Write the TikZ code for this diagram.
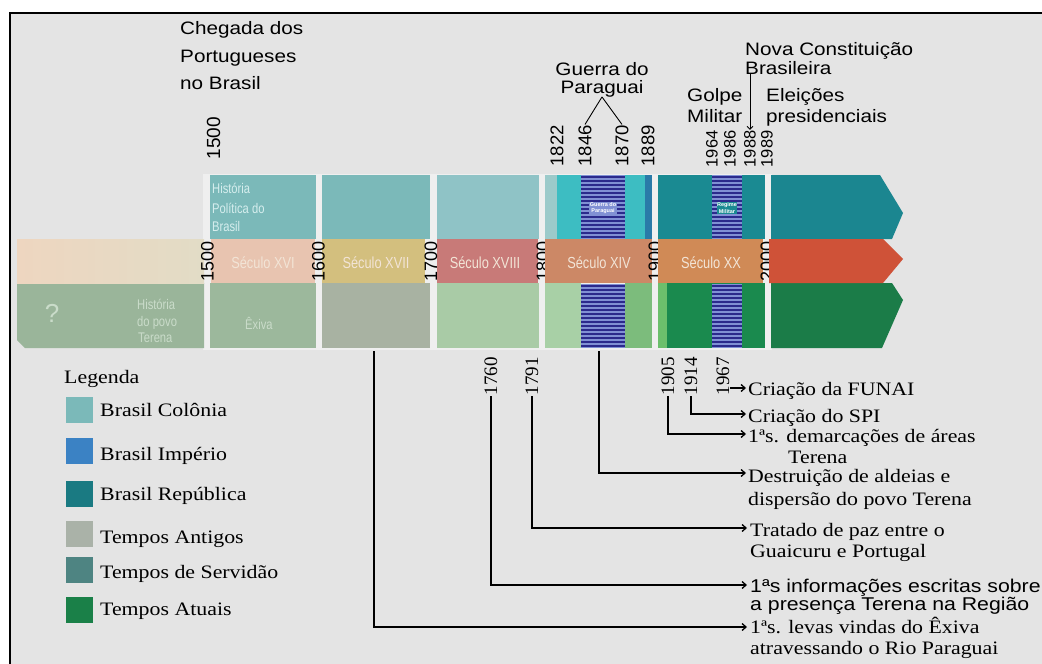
\documentclass[tikz,border=0pt]{standalone}
\usepackage{fontspec}
\setmainfont{Liberation Serif}
\newfontfamily\sansw[FakeStretch=1.15]{Liberation Sans}
\newfontfamily\sansn{Liberation Sans}
\newfontfamily\sansc[FakeStretch=0.8]{Liberation Sans}
\newfontfamily\serifw[FakeStretch=1.15]{Liberation Serif}
\newfontfamily\serifn{Liberation Serif}
\usetikzlibrary{arrows.meta}
\definecolor{bgc}{HTML}{E4E4E4}
\definecolor{sepc}{HTML}{EFEFEF}
\definecolor{colonia}{HTML}{7BB9B9}
\definecolor{colonialt}{HTML}{8FC3C6}
\definecolor{imperio}{HTML}{3B82C4}
\definecolor{republica}{HTML}{1A7A82}
\definecolor{antigos}{HTML}{AAB2A8}
\definecolor{servidao}{HTML}{4E8482}
\definecolor{atuais}{HTML}{1A8048}
\definecolor{cyanc}{HTML}{3DBDC2}
\definecolor{cyanl}{HTML}{9CCACA}
\definecolor{blued}{HTML}{2A7AA8}
\definecolor{tealc}{HTML}{1A8A92}
\definecolor{teal6}{HTML}{1B8690}
\definecolor{navy}{HTML}{2B2A8C}
\definecolor{stripebase}{HTML}{8090D4}
\definecolor{bandpreL}{HTML}{EED6C0}
\definecolor{bandpreR}{HTML}{E2DCC6}
\definecolor{band1}{HTML}{E8C4B0}
\definecolor{band2}{HTML}{D3BF7E}
\definecolor{band3}{HTML}{C87A78}
\definecolor{band4}{HTML}{CC8866}
\definecolor{band5}{HTML}{D08A56}
\definecolor{band6}{HTML}{CF5238}
\definecolor{low0}{HTML}{9AB59A}
\definecolor{low1}{HTML}{9CB89C}
\definecolor{low2}{HTML}{A8B2A2}
\definecolor{low3}{HTML}{A9CBA6}
\definecolor{low4a}{HTML}{A8D0A6}
\definecolor{low4b}{HTML}{7CBC7C}
\definecolor{low5a}{HTML}{6CBF6C}
\definecolor{low5b}{HTML}{1A8A4E}
\definecolor{low6}{HTML}{1B7C48}
\definecolor{celltext}{HTML}{F2E4D6}
\definecolor{toptext}{HTML}{D6EEEE}
\definecolor{lowtext}{HTML}{CADCCA}
\newcommand\stripeblock[4]{%
  \fill[stripebase] (#1,#3) rectangle (#2,#4);
  \foreach \k in {0,...,15} {\fill[navy] (#1,{#3+1+4*\k}) rectangle (#2,{#3+3+4*\k});}
}
\tikzset{
 lab/.style={font=\sansw\fontsize{18}{20}\selectfont, inner sep=0pt, anchor=base west},
 labc/.style={font=\sansw\fontsize{18}{20}\selectfont, inner sep=0pt, anchor=base},
 note/.style={font=\serifw\fontsize{19}{21}\selectfont, inner sep=0pt, anchor=base west},
 notes/.style={font=\sansw\fontsize{18.5}{21}\selectfont, inner sep=0pt, anchor=base west},
 yrtop/.style={rotate=90, anchor=west, inner sep=0.5pt, font=\sansn\fontsize{18.5}{19}\selectfont},
 yrsm/.style={rotate=90, anchor=west, inner sep=0.5pt, font=\sansn\fontsize{16.5}{17}\selectfont},
 yrband/.style={rotate=90, anchor=center, inner sep=0pt, font=\sansn\fontsize{18}{18}\selectfont},
 yrbot/.style={rotate=90, anchor=west, inner sep=0.5pt, font=\serifn\fontsize{19}{19}\selectfont},
 celltxt/.style={font=\sansc\fontsize{16}{17}\selectfont, text=celltext, inner sep=0pt},
 smalltxt/.style={font=\sansc\fontsize{14}{15}\selectfont, inner sep=0pt, anchor=base west},
 tinytxt/.style={font=\sansn\bfseries\fontsize{5.5}{6.5}\selectfont, text=white, align=center, inner sep=0.5pt},
 conn/.style={line width=1.3pt, -{Straight Barb[length=4pt,width=7pt]}},
 plainline/.style={line width=1.3pt},
 thinline/.style={line width=0.9pt},
 swatch/.style={minimum width=27pt, minimum height=26pt, inner sep=0pt, draw=none},
}
\begin{document}
\begin{tikzpicture}[x=1pt,y=-1pt]
\useasboundingbox (0,0) rectangle (1042,664);
\fill[white] (0,0) rectangle (1042,664);
\fill[bgc] (10,13) rectangle (1042,664);
\draw[line width=2pt] (10,664) -- (10,13) -- (1042,13);

% separators background
\fill[sepc] (203,174) rectangle (772,350);

% ---- top row ----
\fill[colonia] (210,175) rectangle (316,239);
\fill[colonia] (322,175) rectangle (430,239);
\fill[colonialt] (437,175) rectangle (539,239);
\fill[cyanl] (545,175) rectangle (557,239);
\fill[cyanc] (557,175) rectangle (645,239);
\fill[blued] (645,175) rectangle (652,239);
\stripeblock{581}{625}{175}{239}
\fill[tealc] (658,175) rectangle (765,239);
\stripeblock{712}{742}{175}{239}
\fill[teal6] (771,175) -- (880,175) -- (903,213) -- (892,239) -- (771,239) -- cycle;

% ---- bottom row ----
\fill[low0] (17,283) -- (204,283) -- (204,348) -- (25,348) -- (17,340) -- cycle;
\fill[low1] (210,283) rectangle (316,348);
\fill[low2] (322,283) rectangle (430,348);
\fill[low3] (437,283) rectangle (539,348);
\fill[low4a] (545,283) rectangle (581,348);
\fill[low4b] (625,283) rectangle (652,348);
\stripeblock{581}{625}{284}{348}
\fill[low5a] (658,283) rectangle (667,348);
\fill[low5b] (667,283) rectangle (765,348);
\stripeblock{712}{742}{284}{348}
\fill[low6] (771,283) -- (892,283) -- (903,300) -- (882,348) -- (771,348) -- cycle;

% ---- middle band ----
\shade[left color=bandpreL, right color=bandpreR] (17,239) rectangle (204,283);
\fill[band1] (211,239) rectangle (315,283);
\fill[band2] (322,239) rectangle (425,283);
\fill[band3] (437,239) rectangle (538,283);
\node[yrband] (b1800) at (543,261) {1800};
\fill[band4] (545,239) rectangle (652,283);
\node[yrband] (b1900) at (655,261) {1900};
\fill[band5] (658,239) rectangle (763,283);
\node[yrband] (b2000) at (767,261) {2000};
\fill[band6] (769,239) -- (883,239) -- (903,259) -- (883,283) -- (769,283) -- cycle;
\node[yrband] (b1500) at (207.5,261) {1500};
\node[yrband] (b1600) at (318.5,261) {1600};
\node[yrband] (b1700) at (431,261) {1700};

% cell texts
\node[celltxt] (s16) at (263,263) {Século XVI};
\node[celltxt] (s17) at (376,263) {Século XVII};
\node[celltxt] (s18) at (485,263) {Século XVIII};
\node[celltxt] (s19) at (599,263) {Século XIV};
\node[celltxt] (s20) at (711,263) {Século XX};
\node[smalltxt, text=toptext] (hp1) at (212,193) {História};
\node[smalltxt, text=toptext] (hp2) at (212,213) {Política do};
\node[smalltxt, text=toptext] (hp3) at (212,231) {Brasil};
\node[font=\sansn\fontsize{26}{26}\selectfont, text=lowtext, inner sep=0pt] (qm) at (52,313) {?};
\node[smalltxt, text=lowtext] (ht1) at (137,309) {História};
\node[smalltxt, text=lowtext] (ht2) at (137,326) {do povo};
\node[smalltxt, text=lowtext] (ht3) at (138,342) {Terena};
\node[smalltxt, text=lowtext] (ex) at (245,329) {Êxiva};
\node[tinytxt, fill=stripebase] (gpt) at (603,208) {Guerra do\\Paraguai};
\node[tinytxt, fill=tealc] (rmt) at (727,208) {Regime\\Militar};

% ---- top labels ----
\node[lab] (ch1) at (180,34) {Chegada dos};
\node[lab] (ch2) at (180,62) {Portugueses};
\node[lab] (ch3) at (180,89) {no Brasil};
\node[yrtop, font=\sansn\fontsize{19}{19}\selectfont] (t1500) at (213.5,160) {1500};
\node[labc] (gp1) at (602,75) {Guerra do};
\node[labc] (gp2) at (602,93) {Paraguai};
\node[yrtop] (y1822) at (557,167) {1822};
\node[yrtop] (y1846) at (585,167) {1846};
\node[yrtop] (y1870) at (622,167) {1870};
\node[yrtop] (y1889) at (648,167) {1889};
\draw[thinline] (gp2.south) -- (y1846.east);
\draw[thinline] (gp2.south) -- (y1870.east);
\node[lab] (nc1) at (745,55) {Nova Constituição};
\node[lab] (nc2) at (745,74) {Brasileira};
\node[lab] (gm1) at (687,101) {Golpe};
\node[lab] (gm2) at (687,122) {Militar};
\node[lab] (el1) at (766,101) {Eleições};
\node[lab] (el2) at (766,122) {presidenciais};
\node[yrsm] (y1964) at (712,168) {1964};
\node[yrsm] (y1986) at (730,168) {1986};
\node[yrsm] (y1988) at (750,168) {1988};
\node[yrsm] (y1989) at (767,168) {1989};
\draw[thinline, -{Straight Barb[length=3pt,width=6pt]}] (nc2.south -| y1988.east) -- (y1988.east);

% ---- legend ----
\node[note, anchor=base west] (leg) at (64,383) {Legenda};
\node[swatch, fill=colonia] (sw1) at (79.5,410) {};
\node[swatch, fill=imperio] (sw2) at (79.5,451) {};
\node[swatch, fill=republica] (sw3) at (79.5,494) {};
\node[swatch, fill=antigos] (sw4) at (79.5,534) {};
\node[swatch, fill=servidao] (sw5) at (79.5,570) {};
\node[swatch, fill=atuais] (sw6) at (79.5,610) {};
\node[note] (lg1) at (100,416) {Brasil Colônia};
\node[note] (lg2) at (100,460) {Brasil Império};
\node[note] (lg3) at (100,500) {Brasil República};
\node[note] (lg4) at (100,543) {Tempos Antigos};
\node[note] (lg5) at (100,578) {Tempos de Servidão};
\node[note] (lg6) at (100,615) {Tempos Atuais};

% ---- bottom events ----
\node[yrbot] (y1760) at (491,396) {1760};
\node[yrbot] (y1791) at (532,396) {1791};
\node[yrbot] (y1905) at (668,396) {1905};
\node[yrbot] (y1914) at (691,396) {1914};
\node[yrbot] (y1967) at (723,396) {1967};
\coordinate (k1600) at (374,351);
\coordinate (kguerra) at (599,351);

\node[note] (e1) at (748,395) {Criação da FUNAI};
\node[note] (e2) at (748,422) {Criação do SPI};
\node[note] (e3a) at (748,442) {1ªs. demarcações de áreas};
\node[note] (e3b) at (788,463) {Terena};
\node[note] (e4a) at (748,482) {Destruição de aldeias e};
\node[note] (e4b) at (748,505) {dispersão do povo Terena};
\node[note] (e5a) at (750,536) {Tratado de paz entre o};
\node[note] (e5b) at (750,557) {Guaicuru e Portugal};
\node[notes] (e6a) at (750,592) {1ªs informações escritas sobre};
\node[notes] (e6b) at (750,610) {a presença Terena na Região};
\node[note] (e7a) at (750,633) {1ªs. levas vindas do Êxiva};
\node[note] (e7b) at (750,654) {atravessando o Rio Paraguai};

\coordinate (a1) at ([xshift=-2pt,yshift=7pt]e1.base west);
\coordinate (a2) at ([xshift=-2pt,yshift=8pt]e2.base west);
\coordinate (a3) at ([xshift=-2pt,yshift=8pt]e3a.base west);
\coordinate (a4) at ([xshift=-2pt,yshift=9pt]e4a.base west);
\coordinate (a5) at ([xshift=-3pt,yshift=8pt]e5a.base west);
\coordinate (a6) at ([xshift=-3pt,yshift=7pt]e6a.base west);
\coordinate (a7) at ([xshift=-3pt,yshift=6pt]e7a.base west);

\draw[conn] (y1967.south west |- a1) -- (a1);
\draw[conn] (y1914.west) |- (a2);
\draw[conn] (y1905.west) |- (a3);
\draw[conn] (kguerra) |- (a4);
\draw[conn] (y1791.west) |- (a5);
\draw[conn] (y1760.west) |- (a6);
\draw[conn] (k1600) |- (a7);
\end{tikzpicture}
\end{document}
